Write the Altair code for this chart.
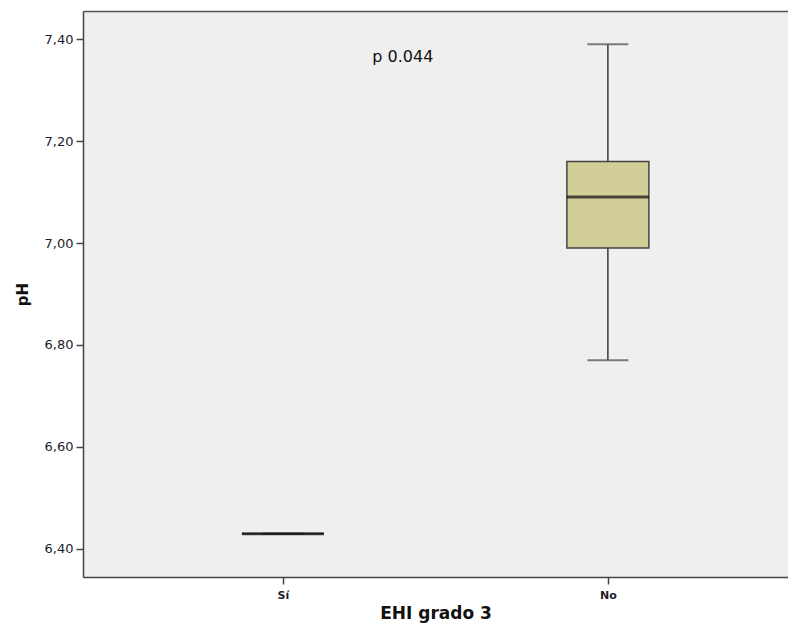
import altair as alt
import pandas as pd

groups = ["Sí", "No"]
minimum = [6.43, 6.77]
q1 = [6.43, 6.99]
median = [6.43, 7.09]
q3 = [6.43, 7.16]
maximum = [6.43, 7.39]

annot_text = ["p 0.044"]
annot_group = ["Sí"]
annot_y = [7.365]

y_ticks = [6.4, 6.6, 6.8, 7.0, 7.2, 7.4]

df = pd.DataFrame({"grupo": groups, "min": minimum, "q1": q1, "med": median,
                   "q3": q3, "max": maximum})
ann = pd.DataFrame({"grupo": annot_group, "y": annot_y, "t": annot_text})

xscale = alt.Scale(domain=groups, type="point", padding=0.5846, align=0.526)
yscale = alt.Scale(domain=[6.345, 7.455], nice=False, zero=False)

x = alt.X("grupo:N", scale=xscale, sort=groups,
          axis=alt.Axis(title="EHI grado 3", orient="bottom", labelAngle=0, tickSize=7,
                        labelPadding=5, labelFontSize=11, labelFontWeight="bold",
                        labelColor="#1c1c2a", titleFontSize=17, titleFontWeight="bold",
                        titleColor="#111111", titlePadding=5,
                        domainColor="#444444", tickColor="#444444", domainWidth=1.5,
                        tickWidth=1.5, labelFont="DejaVu Sans", titleFont="DejaVu Sans"))

x_plain = alt.X("grupo:N", scale=xscale, sort=groups, axis=None)

x_top = alt.X("grupo:N", scale=xscale, sort=groups,
              axis=alt.Axis(orient="top", title="", labels=False,
                            ticks=False, domainColor="#555555", domainWidth=1.5))

yaxis = alt.Axis(title="pH", values=y_ticks, format=".2f",
                 labelExpr="replace(datum.label, '.', ',')", tickSize=7,
                 labelPadding=3, labelFontSize=13, labelColor="#1c1c2a",
                 titleFontSize=15, titleFontWeight="bold", titleColor="#111111",
                 titlePadding=14, domainColor="#444444", tickColor="#444444",
                 domainWidth=1.5, tickWidth=1.5, grid=False,
                 labelFont="DejaVu Sans", titleFont="DejaVu Sans")

base = alt.Chart(df)

whisker = base.mark_rule(color="#3a3a3a", strokeWidth=1.5).encode(
    x=x, y=alt.Y("min:Q", scale=yscale, axis=yaxis), y2="max:Q")
box = base.mark_bar(size=82, fill="#D2CE98", stroke="#444444", strokeWidth=1.5).encode(
    x=x_plain, y=alt.Y("q1:Q", scale=yscale), y2="q3:Q")
cap_lo = base.mark_tick(size=41, thickness=2, color="#4a4a4a", orient="horizontal").encode(
    x=x_plain, y=alt.Y("min:Q", scale=yscale))
cap_hi = base.mark_tick(size=41, thickness=2, color="#4a4a4a", orient="horizontal").encode(
    x=x_plain, y=alt.Y("max:Q", scale=yscale))
med = base.mark_tick(size=82, thickness=3, color="#0a0a0a", orient="horizontal").encode(
    x=x_plain, y=alt.Y("med:Q", scale=yscale))
txt = alt.Chart(ann).mark_text(dx=120, fontSize=16, font="DejaVu Sans",
                               color="#111111").encode(
    x=x_top, y=alt.Y("y:Q", scale=yscale), text="t:N")

chart = alt.layer(whisker, box, cap_lo, cap_hi, med, txt).resolve_axis(
    x="independent"
).properties(
    width=705, height=566,
    autosize=alt.AutoSizeParams(type="none"),
    padding={"left": 75, "top": 3, "right": 0, "bottom": 47},
    background="white",
).configure_view(fill="#EFEFEF", stroke=None)

chart.save("out.html", embed_options={"renderer": "svg", "actions": False})
